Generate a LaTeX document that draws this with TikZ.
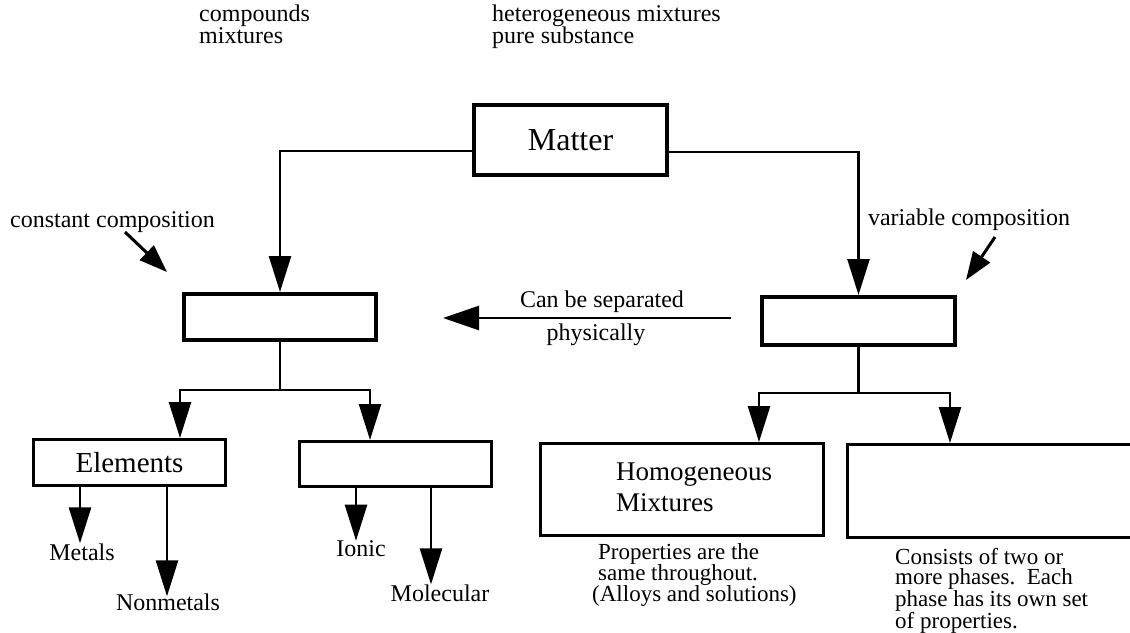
\documentclass[tikz,border=0pt]{standalone}
\usepackage{fontspec}
\setmainfont{Liberation Serif}
\usetikzlibrary{arrows.meta,calc}
\begin{document}
\begin{tikzpicture}[x=1pt,y=-1pt,
  heavybox/.style={draw,line width=4pt,inner sep=0pt},
  lightbox/.style={draw,line width=3pt,inner sep=0pt},
  lbl/.style={font=\fontsize{24}{22}\selectfont,inner sep=0pt},
  small/.style={font=\fontsize{23}{20}\selectfont,inner sep=0pt},
  conn/.style={line width=2.5pt,line join=miter},
  arr/.style={conn,-{Triangle[length=36pt,width=22pt]}},
  ptr/.style={line width=3pt,-{Triangle[length=28pt,width=20pt]}}]
\useasboundingbox (0,0) rectangle (1130,632);
\fill[white] (0,0) rectangle (1130,632);

% word bank
\node[lbl,align=left,anchor=north west] (bank1) at (199,5) {compounds\\mixtures};
\node[lbl,align=left,anchor=north west] (bank2) at (492,5) {heterogeneous mixtures\\pure substance};

% main boxes
\node[heavybox,minimum width=193pt,minimum height=70pt,font=\fontsize{32}{34}\selectfont] (M) at (570.5,140) {Matter};
\node[heavybox,minimum width=192pt,minimum height=46pt] (LB) at (280,317) {};
\node[heavybox,minimum width=193pt,minimum height=48pt] (RB) at (858.5,321) {};

\draw[arr] ([yshift=-11pt]M.west) -| (LB.north);
\draw[arr] ([yshift=-12pt]M.east) -| (RB.north);

% side labels
\node[lbl] (CC) at (112.5,222) {constant composition};
\coordinate (ccs) at (125,232);
\coordinate (cct) at (167,272);
\draw[ptr] (ccs) -- (cct);

\node[lbl] (VC) at (969,220) {variable composition};
\coordinate (vcs) at (995,237);
\coordinate (vct) at (966,280);
\draw[ptr] (vcs) -- (vct);

\node[lbl] (sep1) at (602,302) {Can be separated};
\node[lbl] (sep2) at (596,335) {physically};
\coordinate (sepS) at (731,318);
\coordinate (sepT) at (443,318);
\draw[conn,-{Triangle[length=36pt,width=24pt]}] (sepS) -- (sepT);

% lower left boxes
\node[lightbox,minimum width=192pt,minimum height=46pt,font=\fontsize{29}{31}\selectfont] (EL) at (129.5,462.5) {Elements};
\node[lightbox,minimum width=192pt,minimum height=45pt] (CP) at (395.5,464) {};

\coordinate (lh) at (280,390);
\coordinate (e1) at (180,390);
\coordinate (c1) at (370,390);
\draw[conn] (LB.south) -- (lh);
\draw[arr] (lh) -- (e1) -- (e1 |- EL.north);
\draw[arr] (lh) -- (c1) -- (c1 |- CP.north);

% leaves of left boxes
\node[lbl] (Metals) at (82,552) {Metals};
\node[lbl] (Nonmetals) at (168,602) {Nonmetals};
\node[lbl] (Ionic) at (361,549) {Ionic};
\node[lbl] (Molecular) at (440,593) {Molecular};

\coordinate (xm) at (80,0);
\coordinate (xn) at (167,0);
\coordinate (xi) at (356,0);
\coordinate (xo) at (431,0);
\draw[arr] (EL.south -| xm) -- (xm |- Metals.north);
\draw[arr] (EL.south -| xn) -- ($(xn |- Nonmetals.north)+(0,3)$);
\draw[arr] (CP.south -| xi) -- (xi |- Ionic.north);
\draw[arr] (CP.south -| xo) -- (xo |- Molecular.north);

% lower right boxes
\node[lightbox,minimum width=283pt,minimum height=92pt] (HM) at (682,489.5) {};
\node[lbl,font=\fontsize{27}{31}\selectfont,align=left,anchor=north west] (HMtext) at (616,463) {Homogeneous\\Mixtures};
\node[lightbox,minimum width=291pt,minimum height=93pt] (HT) at (993,491) {};

\coordinate (rh) at (858.5,393);
\coordinate (h1) at (759,393);
\coordinate (h2) at (950,393);
\draw[conn] (RB.south) -- (rh);
\draw[arr] (rh) -- (h1) -- (h1 |- HM.north);
\draw[arr] (rh) -- (h2) -- (h2 |- HT.north);

\node[small,font=\fontsize{23}{21}\selectfont,align=left,anchor=north west] (HMdesc) at (598,543)
  {Properties are the\\same throughout.\\\hspace*{-6pt}(Alloys and solutions)};
\node[small,align=left,anchor=north west] (HTdesc) at (895,548)
  {Consists of two or\\more phases.\ \ Each\\phase has its own set\\of properties.};
\end{tikzpicture}
\end{document}
